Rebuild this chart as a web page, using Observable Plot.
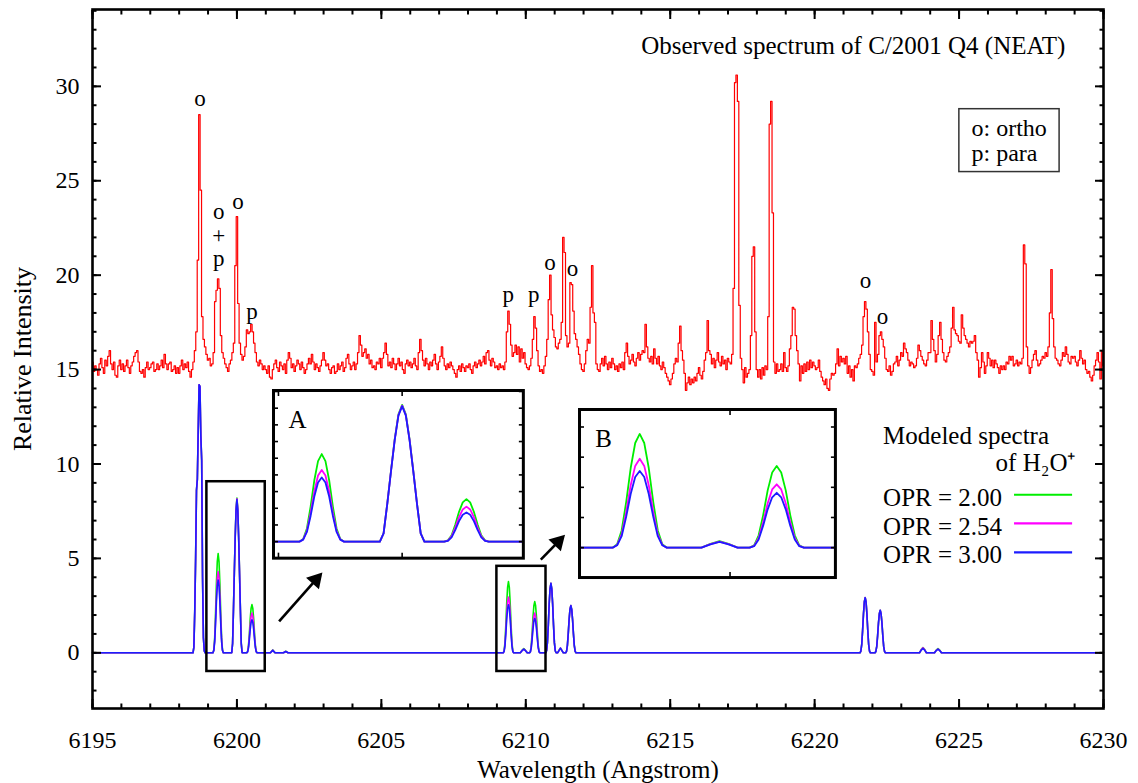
<!DOCTYPE html>
<html>
<head>
<meta charset="utf-8">
<script src="https://cdn.jsdelivr.net/npm/d3@7"></script>
<script src="https://cdn.jsdelivr.net/npm/@observablehq/plot@0.6"></script>
<style>
  body { margin: 0; background: #fff; }
  #chart { position: relative; width: 1138px; height: 783px; }
  #chart svg text, #chart svg tspan { font-family: 'Liberation Serif', 'Times New Roman', serif !important; }
</style>
</head>
<body>
<div id="chart"></div>
<script>
// ---------- Observed spectrum of comet C/2001 Q4 (NEAT), 0.05 Å sampling ----------
const obsStart = 6195.0;
const obsStep = 0.05;

const obs6195 = [
  15.4, 14.9, 15.2, 15.0, 14.7, 15.3, 15.6, 15.1, 14.8, 15.5,
  15.2, 15.7, 16.0, 15.3, 15.0, 15.4, 14.7, 14.6, 15.2, 15.5,
  15.0, 15.3, 14.9, 15.2, 15.5, 15.1, 14.8, 15.2, 15.4, 15.7,
  15.9, 16.0, 15.4, 14.9, 14.8, 15.0, 14.6, 15.1, 15.4, 15.0,
  15.1, 15.3, 15.4, 14.9, 15.0, 15.3, 15.0, 15.2, 15.5, 15.1,
  15.8, 15.3, 15.0, 15.3, 15.4, 14.9, 15.0, 15.2, 14.8, 15.1,
  14.8, 15.2, 15.5, 15.0, 15.3, 15.1, 15.4, 14.9, 14.6, 15.0,
  15.4, 16.0, 17.0, 20.8, 28.5, 24.5, 17.8, 16.6, 16.2, 15.8,
  15.5, 15.6, 15.2, 15.3, 15.9, 18.6, 19.2, 19.8, 19.3, 16.8,
  15.9, 15.6, 15.3, 15.1, 14.9, 15.3, 15.5, 15.9, 16.4, 20.5
];
const obs6200 = [
  23.1, 18.5, 16.4, 15.8, 15.5, 15.7, 16.2, 17.1, 16.9, 17.0,
  17.4, 17.0, 16.4, 15.9, 15.4, 15.2, 15.5, 15.3, 15.0, 15.2,
  15.0, 14.8, 15.2, 14.6, 14.5, 15.0, 15.3, 15.5, 15.1, 14.9,
  15.4, 15.2, 15.0, 15.3, 14.8, 15.5, 15.9, 15.6, 15.1, 15.3,
  14.9, 15.2, 15.5, 15.3, 15.0, 15.4, 15.1, 14.8, 15.0, 15.3,
  15.6, 15.3, 15.8, 15.4, 15.0, 15.3, 15.1, 14.9, 15.2, 15.5,
  15.9, 15.5, 15.2, 15.3, 15.0, 14.8, 15.1, 15.2, 14.8, 14.9,
  15.3, 15.0, 15.2, 15.4, 14.9, 15.1, 15.6, 15.8, 15.3, 15.0,
  15.2, 15.4, 15.0, 15.3, 15.9, 16.8, 16.3, 15.7, 15.9, 16.1,
  15.6, 15.8, 15.3, 15.5, 15.1, 15.2, 15.0, 15.4, 15.3, 15.6
];
const obs6205 = [
  15.1, 15.6, 15.9, 16.4, 15.8, 15.2, 15.4, 15.1, 15.6, 15.3,
  15.0, 15.3, 15.6, 15.2, 15.4, 15.0, 14.8, 15.3, 15.5, 15.2,
  15.4, 15.1, 15.3, 15.6, 15.2, 15.0, 15.9, 16.6, 16.0, 15.5,
  15.2, 15.6, 15.3, 15.0, 15.4, 15.2, 15.5, 15.8, 15.3, 15.0,
  15.4, 15.7, 16.2, 15.6, 15.2, 15.0, 15.3, 15.1, 15.4, 15.2,
  15.0, 14.8, 14.6, 15.0, 15.2, 14.9, 15.3, 15.1, 14.9, 15.2,
  15.1, 15.3, 15.0, 14.8, 15.2, 15.4, 15.1, 15.3, 15.5, 15.2,
  15.4, 15.7, 15.3, 15.9, 16.0, 15.5, 15.2, 15.6, 15.4, 15.1,
  15.2, 15.0, 15.3, 15.1, 15.2, 15.0, 15.4, 17.0, 18.1, 17.4,
  16.3, 15.7, 15.9, 16.3, 15.8, 16.2, 15.4, 16.1, 15.6, 15.9
];
const obs6210 = [
  15.3, 15.1, 15.0, 15.2, 15.6, 16.6, 17.8, 17.2, 16.0, 15.2,
  14.9, 15.0, 14.8, 15.2, 15.7, 16.6, 18.7, 20.0, 17.9, 17.1,
  16.7, 16.2, 16.1, 16.4, 16.6, 17.5, 22.0, 21.2, 16.8, 16.2,
  16.4, 19.6, 19.5, 18.1, 16.9, 16.6, 16.2, 15.8, 15.3, 15.0,
  14.9, 15.3, 16.0, 16.6, 16.4, 18.3, 20.5, 18.0, 17.5, 15.3,
  15.0, 14.9, 15.3, 15.6, 15.2, 15.7, 15.3, 15.0, 15.4, 15.1,
  15.6, 15.3, 15.0, 15.2, 14.9, 15.3, 15.1, 15.4, 15.0, 15.9,
  16.4, 15.7, 15.3, 15.5, 15.8, 15.4, 15.2, 15.6, 15.9, 15.5,
  15.8, 16.0, 15.9, 17.4, 16.2, 15.6, 15.4, 15.7, 15.3, 16.1,
  15.6, 15.3, 15.7, 15.2, 15.0, 15.4, 15.1, 14.8, 14.6, 14.4
];
const obs6215 = [
  14.2, 14.5, 14.8, 15.3, 15.6, 15.4, 16.4, 17.3, 16.0, 15.5,
  14.8, 13.9, 14.3, 14.6, 14.2, 14.5, 14.3, 14.6, 14.4, 14.8,
  15.1, 14.7, 14.5, 14.9, 15.5, 15.9, 17.6, 16.0, 15.8, 15.3,
  15.6, 15.1, 15.5, 15.9, 15.4, 15.2, 15.7, 15.3, 15.5, 15.0,
  15.6, 15.4, 15.3, 15.8, 19.3, 30.2, 30.6, 29.2, 18.4, 15.6,
  15.0, 14.3, 15.1, 14.6, 14.8, 15.0, 16.8, 21.0, 21.5, 17.0,
  15.0, 14.6, 15.0, 14.5, 15.1, 14.7, 15.2, 15.0, 17.8, 28.0,
  29.2, 23.3, 15.4, 14.8, 15.3, 14.9, 15.0, 15.3, 14.9, 15.9,
  15.1, 14.9, 15.2, 16.1, 16.8, 18.3, 18.2, 16.8, 16.0, 15.3,
  14.4, 15.2, 14.8, 15.3, 14.9, 15.4, 15.0, 15.5, 15.1, 15.4
];
const obs6220 = [
  15.2, 15.0, 15.1, 15.5, 14.9, 14.6, 14.4, 14.2, 14.5, 14.0,
  13.9, 14.5, 14.8, 14.7, 14.8, 15.3, 16.1, 15.2, 15.7, 15.4,
  15.6, 15.3, 15.7, 14.8, 15.2, 14.6, 15.0, 14.4, 15.2, 15.1,
  15.3, 15.6, 15.8, 16.3, 17.8, 18.6, 18.2, 17.0, 15.8, 15.0,
  14.9, 14.7, 17.5, 15.4, 15.8, 16.8, 17.0, 16.6, 16.2, 15.6,
  15.0, 14.9, 15.2, 14.7, 14.9, 15.3, 15.4, 15.7, 15.2, 15.5,
  15.9, 15.7, 16.4, 16.1, 15.9, 15.5, 15.2, 15.4, 15.3, 15.1,
  15.2, 15.6, 16.3, 16.0, 15.7, 15.5, 15.3, 15.2, 15.5, 15.9,
  15.9, 17.6, 16.6, 16.0, 15.4, 15.8, 16.8, 17.5, 16.6, 15.9,
  15.5, 15.4, 15.7, 15.9, 16.2, 17.2, 18.3, 17.1, 16.9, 16.8
];
const obs6225 = [
  16.5, 16.4, 17.9, 17.2, 16.8, 16.6, 16.4, 16.2, 16.5, 16.4,
  16.5, 16.8, 15.9, 15.5, 14.6, 15.1, 15.9, 15.4, 14.8, 15.2,
  15.9, 15.6, 15.2, 15.5, 15.1, 15.5, 15.3, 15.1, 14.8, 15.2,
  15.0, 15.2, 15.0, 15.4, 15.3, 15.7, 15.5, 15.7, 15.2, 15.3,
  15.5, 15.2, 15.4, 15.3, 15.6, 21.6, 20.6, 16.2, 15.2, 14.8,
  15.1, 15.5, 15.8, 16.0, 15.5, 15.2, 15.3, 15.5, 15.7, 15.6,
  15.9, 15.7, 16.2, 18.0, 20.3, 17.7, 16.2, 15.6, 15.5, 15.3,
  15.2, 15.5, 15.9, 15.7, 16.2, 15.8, 15.4, 15.3, 15.7, 15.6,
  15.7, 15.4, 15.2, 15.5, 16.0, 15.6, 15.3, 15.5, 15.0, 14.8,
  14.9, 14.6, 14.4, 14.7, 15.2, 15.5, 15.9, 15.4, 14.5, 16.0
];
const obs6230 = [15.2];

// ---------- Modeled H2O+ spectra for three ortho-to-para ratios ----------
const modelWave = [
  6195.00,
  6198.48, 6198.51, 6198.54, 6198.57, 6198.60, 6198.63, 6198.66, 6198.69, 6198.72, 6198.75, 6198.78, 6198.81, 6198.84, 6198.87, 6198.90,
  6199.17, 6199.20, 6199.23, 6199.26, 6199.29, 6199.32, 6199.35, 6199.38, 6199.41, 6199.44, 6199.47, 6199.50, 6199.53,
  6199.82, 6199.85, 6199.88, 6199.91, 6199.94, 6199.97, 6200.00, 6200.03, 6200.06, 6200.09, 6200.12, 6200.15, 6200.18,
  6200.34, 6200.37, 6200.40, 6200.43, 6200.46, 6200.49, 6200.52, 6200.55, 6200.58, 6200.61, 6200.64, 6200.67, 6200.70,
  6201.16, 6201.24, 6201.32, 6201.61, 6201.69, 6201.77,
  6209.22, 6209.25, 6209.28, 6209.31, 6209.34, 6209.37, 6209.40, 6209.43, 6209.46, 6209.49, 6209.52, 6209.55, 6209.58,
  6209.81, 6209.87, 6209.93, 6209.99, 6210.05,
  6210.13, 6210.16, 6210.19, 6210.22, 6210.25, 6210.28, 6210.31, 6210.34, 6210.37, 6210.40, 6210.43, 6210.46, 6210.49,
  6210.69, 6210.72, 6210.75, 6210.78, 6210.81, 6210.84, 6210.87, 6210.90, 6210.93, 6210.96, 6210.99, 6211.02, 6211.05,
  6211.10, 6211.20, 6211.30,
  6211.38, 6211.41, 6211.44, 6211.47, 6211.50, 6211.53, 6211.56, 6211.59, 6211.62, 6211.65, 6211.68, 6211.71, 6211.74,
  6221.57, 6221.60, 6221.63, 6221.66, 6221.69, 6221.72, 6221.75, 6221.78, 6221.81, 6221.84, 6221.87, 6221.90, 6221.93,
  6222.09, 6222.12, 6222.15, 6222.18, 6222.21, 6222.24, 6222.27, 6222.30, 6222.33, 6222.36, 6222.39, 6222.42, 6222.45,
  6223.63, 6223.69, 6223.75, 6223.81, 6223.87,
  6224.15, 6224.21, 6224.27, 6224.33, 6224.39,
  6230.00
];
const opr200 = [
  0,
  0, 0.3, 2.2, 5.0, 8.6, 9.2, 11.8, 14.2, 14.1, 11.5, 10.2, 4.0, 0.8, 0.1, 0,
  0, 0.16, 0.79, 2.10, 3.68, 4.83, 5.25, 4.83, 3.68, 2.10, 0.79, 0.16, 0,
  0, 0.49, 2.30, 4.26, 6.15, 7.63, 8.20, 7.63, 6.15, 4.26, 2.30, 0.49, 0,
  0, 0.08, 0.38, 1.02, 1.79, 2.35, 2.55, 2.35, 1.79, 1.02, 0.38, 0.08, 0,
  0, 0.15, 0, 0, 0.08, 0,
  0, 0.11, 0.57, 1.51, 2.64, 3.47, 3.77, 3.47, 2.64, 1.51, 0.57, 0.11, 0,
  0, 0.13, 0.22, 0.13, 0,
  0, 0.08, 0.41, 1.08, 1.90, 2.49, 2.71, 2.49, 1.90, 1.08, 0.41, 0.08, 0,
  0, 0.11, 0.55, 1.47, 2.58, 3.39, 3.68, 3.39, 2.58, 1.47, 0.55, 0.11, 0,
  0, 0.25, 0,
  0, 0.08, 0.38, 1.00, 1.75, 2.30, 2.50, 2.30, 1.75, 1.00, 0.38, 0.08, 0,
  0, 0.09, 0.44, 1.17, 2.04, 2.69, 2.92, 2.69, 2.04, 1.17, 0.44, 0.09, 0,
  0, 0.07, 0.34, 0.90, 1.58, 2.07, 2.25, 2.07, 1.58, 0.90, 0.34, 0.07, 0,
  0, 0.17, 0.28, 0.17, 0,
  0, 0.14, 0.22, 0.14, 0,
  0
];
const opr254 = [
  0,
  0, 0.3, 2.2, 5.0, 8.6, 9.2, 11.8, 14.2, 14.1, 11.5, 10.2, 4.0, 0.8, 0.1, 0,
  0, 0.13, 0.65, 1.72, 3.01, 3.96, 4.30, 3.96, 3.01, 1.72, 0.65, 0.13, 0,
  0, 0.49, 2.28, 4.24, 6.11, 7.58, 8.15, 7.58, 6.11, 4.24, 2.28, 0.49, 0,
  0, 0.06, 0.32, 0.84, 1.47, 1.93, 2.10, 1.93, 1.47, 0.84, 0.32, 0.06, 0,
  0, 0.14, 0, 0, 0.07, 0,
  0, 0.09, 0.44, 1.18, 2.07, 2.71, 2.95, 2.71, 2.07, 1.18, 0.44, 0.09, 0,
  0, 0.12, 0.20, 0.12, 0,
  0, 0.06, 0.32, 0.84, 1.47, 1.93, 2.10, 1.93, 1.47, 0.84, 0.32, 0.06, 0,
  0, 0.11, 0.55, 1.47, 2.58, 3.39, 3.68, 3.39, 2.58, 1.47, 0.55, 0.11, 0,
  0, 0.25, 0,
  0, 0.08, 0.38, 1.00, 1.75, 2.30, 2.50, 2.30, 1.75, 1.00, 0.38, 0.08, 0,
  0, 0.09, 0.44, 1.17, 2.04, 2.69, 2.92, 2.69, 2.04, 1.17, 0.44, 0.09, 0,
  0, 0.07, 0.34, 0.90, 1.58, 2.07, 2.25, 2.07, 1.58, 0.90, 0.34, 0.07, 0,
  0, 0.16, 0.26, 0.16, 0,
  0, 0.13, 0.20, 0.13, 0,
  0
];
const opr300 = [
  0,
  0, 0.3, 2.2, 5.0, 8.6, 9.2, 11.8, 14.2, 14.1, 11.5, 10.2, 4.0, 0.8, 0.1, 0,
  0, 0.12, 0.58, 1.54, 2.70, 3.54, 3.85, 3.54, 2.70, 1.54, 0.58, 0.12, 0,
  0, 0.49, 2.27, 4.22, 6.09, 7.55, 8.12, 7.55, 6.09, 4.22, 2.27, 0.49, 0,
  0, 0.05, 0.26, 0.70, 1.23, 1.61, 1.75, 1.61, 1.23, 0.70, 0.26, 0.05, 0,
  0, 0.13, 0, 0, 0.07, 0,
  0, 0.08, 0.38, 1.02, 1.78, 2.34, 2.54, 2.34, 1.78, 1.02, 0.38, 0.08, 0,
  0, 0.11, 0.19, 0.11, 0,
  0, 0.05, 0.27, 0.73, 1.27, 1.67, 1.82, 1.67, 1.27, 0.73, 0.27, 0.05, 0,
  0, 0.11, 0.55, 1.47, 2.58, 3.39, 3.68, 3.39, 2.58, 1.47, 0.55, 0.11, 0,
  0, 0.25, 0,
  0, 0.08, 0.38, 1.00, 1.75, 2.30, 2.50, 2.30, 1.75, 1.00, 0.38, 0.08, 0,
  0, 0.09, 0.44, 1.17, 2.04, 2.69, 2.92, 2.69, 2.04, 1.17, 0.44, 0.09, 0,
  0, 0.07, 0.34, 0.90, 1.58, 2.07, 2.25, 2.07, 1.58, 0.90, 0.34, 0.07, 0,
  0, 0.14, 0.23, 0.14, 0,
  0, 0.12, 0.19, 0.12, 0,
  0
];

// ---------- Line identifications (o = ortho, p = para) ----------
const annoText  = ["o", "o\n+\np", "o", "p", "p", "p", "o", "o", "o", "o"];
const annoWave  = [6198.72, 6199.37, 6200.04, 6200.52, 6209.39, 6210.28, 6210.84, 6211.62, 6221.76, 6222.35];
const annoLevel = [29.37, 22.12, 23.90, 18.09, 18.96, 18.96, 20.68, 20.34, 19.72, 17.82];

// ---------- Zoom windows A and B, and where their enlargements sit ----------
const zoomLabels = ["A", "B"];
const zoomWave   = [[6198.96, 6200.98], [6209.00, 6210.70]];
const zoomLevel  = [[-0.99, 9.06], [-0.99, 4.58]];
const panelWave  = [[6201.27, 6209.92], [6211.86, 6220.72]];
const panelLevel = [[4.99, 13.87], [3.97, 12.87]];
const arrowFrom  = [[6201.46, 1.67], [6210.52, 4.93]];
const arrowTo    = [[6202.96, 4.26], [6211.36, 6.26]];

// ---------- Axis ticks ----------
const xMajor = [6195, 6200, 6205, 6210, 6215, 6220, 6225, 6230];
const xMinor = d3.range(6195, 6231, 1);
const yMajor = [0, 5, 10, 15, 20, 25, 30];
const yMinor = d3.range(-2, 35, 1);

// ---------- Legend ----------
const oprLabels = ["OPR = 2.00", "OPR = 2.54", "OPR = 3.00"];
const oprColors = ["#00ee00", "#ff00ff", "#1c1cff"];

// ---------- layout ----------
const W = 1138, H = 783;
const M = {left: 92, right: 35, top: 9, bottom: 75};
const xDomain = [6195, 6230];
const yDomain = [-2.95, 34.07];
const serif = "'Liberation Serif', 'Times New Roman', serif";

// ---------- assemble rows ----------
const obsFlux = [obs6195, obs6200, obs6205, obs6210, obs6215, obs6220, obs6225].flatMap((seg, k) => {
  if (seg.length !== 100) throw new Error("segment " + k + " has " + seg.length + " samples");
  return seg;
}).concat(obs6230);
const observed = obsFlux.map((flux, i) => ({wave: Math.round((obsStart + i * obsStep) * 100) / 100, flux}));

[opr200, opr254, opr300].forEach((s, k) => {
  if (s.length !== modelWave.length) throw new Error("model " + k + " length " + s.length + " vs " + modelWave.length);
});
const model = modelWave.map((wave, i) => ({wave, g: opr200[i], m: opr254[i], b: opr300[i]}));
const annotations = annoText.map((text, i) => ({text, wave: annoWave[i], level: annoLevel[i]}));
const zooms = zoomLabels.map((label, i) => ({
  label, x1: zoomWave[i][0], x2: zoomWave[i][1], y1: zoomLevel[i][0], y2: zoomLevel[i][1]
}));
const legendRows = oprLabels.map((label, i) => ({label, color: oprColors[i], level: [8.37, 6.85, 5.32][i], textLevel: [8.21, 6.68, 5.16][i]}));

// Arrows with solid triangular heads: shaft runs to the head's centre,
// the head is a rotated triangle whose tip lands on the arrow end.
const sxPre = Plot.scale({x: {domain: xDomain, range: [M.left, W - M.right]}});
const syPre = Plot.scale({y: {domain: yDomain, range: [H - M.bottom, M.top]}});
const headBack = 10;
const arrows = arrowFrom.map((a, i) => {
  const b = arrowTo[i];
  const p1 = [sxPre.apply(a[0]), syPre.apply(a[1])];
  const p2 = [sxPre.apply(b[0]), syPre.apply(b[1])];
  const len = Math.hypot(p2[0] - p1[0], p2[1] - p1[1]);
  const u = [(p2[0] - p1[0]) / len, (p2[1] - p1[1]) / len];
  const c = [p2[0] - u[0] * headBack, p2[1] - u[1] * headBack];
  return {
    x1: a[0], y1: a[1],
    hx: sxPre.invert(c[0]), hy: syPre.invert(c[1]),
    angle: Math.atan2(u[0], -u[1]) * 180 / Math.PI
  };
});

function modelLines(width, clip) {
  return [
    Plot.line(model, {x: "wave", y: "g", stroke: oprColors[0], strokeWidth: width, clip}),
    Plot.line(model, {x: "wave", y: "m", stroke: oprColors[1], strokeWidth: width, clip}),
    Plot.line(model, {x: "wave", y: "b", stroke: oprColors[2], strokeWidth: width, clip})
  ];
}

// inward-pointing tick marks on all four sides (no labels)
function ticksAround(xs, ys, size, width) {
  const opts = {tickSize: -size, strokeWidth: width, fill: "none", label: null};
  return [
    Plot.axisX(xs, {...opts, anchor: "bottom"}),
    Plot.axisX(xs, {...opts, anchor: "top"}),
    Plot.axisY(ys, {...opts, anchor: "left"}),
    Plot.axisY(ys, {...opts, anchor: "right"})
  ];
}

const txt = {fontFamily: serif, lineAnchor: "middle"};

const chart = Plot.plot({
  width: W,
  height: H,
  marginLeft: M.left,
  marginRight: M.right,
  marginTop: M.top,
  marginBottom: M.bottom,
  style: {fontFamily: serif, fontSize: "24px", background: "white", color: "black"},
  x: {domain: xDomain, axis: null, label: null},
  y: {domain: yDomain, axis: null, label: null},
  color: {type: "identity"},
  marks: [
    Plot.line(observed, {x: "wave", y: "flux", stroke: "#ff0000", strokeWidth: 1.2, curve: "step"}),
    ...modelLines(1.6, false),
    Plot.rect(zooms, {x1: "x1", x2: "x2", y1: "y1", y2: "y2", fill: "none", stroke: "black", strokeWidth: 2.5}),
    Plot.link(arrows, {x1: "x1", y1: "y1", x2: "hx", y2: "hy", stroke: "black", strokeWidth: 2.6}),
    Plot.dot(arrows, {x: "hx", y: "hy", symbol: "triangle", rotate: "angle", r: 6.4, fill: "black", stroke: null}),
    Plot.text(annotations, {...txt, x: "wave", y: "level", text: "text", fontSize: 23, lineHeight: 1.02}),
    Plot.text(["Observed spectrum of C/2001 Q4 (NEAT)"], {...txt, x: 6228.68, y: 32.15, textAnchor: "end", fontSize: 25}),
    Plot.rect([0], {x1: 6225.01, x2: 6228.48, y1: 25.46, y2: 28.79, fill: "white", stroke: "#333", strokeWidth: 1.5}),
    Plot.text(["o: ortho\np: para"], {...txt, x: 6225.43, y: 27.13, textAnchor: "start", fontSize: 24, lineHeight: 1.02}),
    Plot.text(["Modeled spectra"], {...txt, x: 6222.37, y: 11.48, textAnchor: "start", fontSize: 25}),
    Plot.text(["of H\u2082O\u207A"], {...txt, x: 6229.03, y: 10.06, textAnchor: "end", fontSize: 25}),
    Plot.text(legendRows, {...txt, x: 6222.37, y: "textLevel", text: "label", textAnchor: "start", fontSize: 25}),
    Plot.ruleY(legendRows, {y: "level", x1: 6226.92, x2: 6228.93, stroke: "color", strokeWidth: 2.2}),
    Plot.frame({stroke: "black", strokeWidth: 2.6}),
    ...ticksAround(xMinor, yMinor, 4.5, 2),
    ...ticksAround(xMajor, yMajor, 9, 2),
    Plot.axisX(xMajor, {anchor: "bottom", tickSize: 0, tickPadding: 22, tickFormat: (d) => String(d), fontSize: 24, fontFamily: serif, label: null}),
    Plot.axisY(yMajor, {anchor: "left", tickSize: 0, tickPadding: 13, tickFormat: (d) => String(d), fontSize: 24, fontFamily: serif, label: null}),
    Plot.text(["Wavelength (Angstrom)"], {...txt, frameAnchor: "bottom", dy: 61, textAnchor: "middle", fontSize: 25}),
    Plot.text(["Relative Intensity"], {...txt, frameAnchor: "left", dx: -70, rotate: -90, textAnchor: "middle", fontSize: 26})
  ]
});

const host = document.getElementById("chart");
host.append(chart);

// Enlarged views of the two zoom windows, laid over the main panel
const sx = chart.scale("x");
const sy = chart.scale("y");
zooms.forEach((z, i) => {
  const left = sx.apply(panelWave[i][0]);
  const right = sx.apply(panelWave[i][1]);
  const top = sy.apply(panelLevel[i][1]);
  const bottom = sy.apply(panelLevel[i][0]);
  const pad = 3;
  const xt = d3.range(Math.ceil(z.x1), Math.floor(z.x2) + 1, 1);
  const yt = d3.range(Math.ceil(z.y1), Math.floor(z.y2) + 1, 1);
  const inset = Plot.plot({
    width: right - left + 2 * pad,
    height: bottom - top + 2 * pad,
    margin: pad,
    style: {fontFamily: serif, background: "transparent", color: "black"},
    x: {domain: [z.x1, z.x2], axis: null, label: null},
    y: {domain: [z.y1, z.y2], axis: null, label: null},
    marks: [
      Plot.frame({fill: "white"}),
      ...modelLines(1.8, true),
      ...ticksAround(xt, yt, 5, 1.6),
      Plot.text([z.label], {...txt, frameAnchor: "top-left", dx: 24, dy: 30, textAnchor: "middle", fontSize: 25}),
      Plot.frame({stroke: "black", strokeWidth: 3})
    ]
  });
  inset.style.position = "absolute";
  inset.style.left = (left - pad) + "px";
  inset.style.top = (top - pad) + "px";
  host.append(inset);
});
</script>
</body>
</html>
